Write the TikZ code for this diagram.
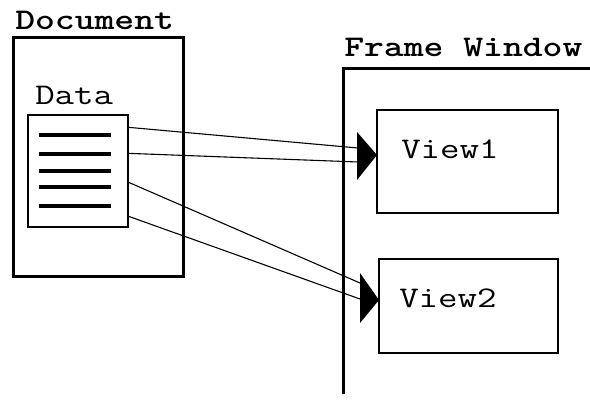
\documentclass[tikz,border=0pt]{standalone}
\usepackage{fontspec}
\usetikzlibrary{calc}
\tikzset{
  thinbox/.style={draw, line width=1.3pt, inner sep=0pt},
  thickbox/.style={draw, line width=3pt, inner sep=0pt},
  label text/.style={font=\ttfamily\fontsize{30}{30}\selectfont, inner sep=0pt, anchor=base west, xscale=1.26},
  title text/.style={label text, font=\ttfamily\bfseries\fontsize{30}{30}\selectfont},
  link/.style={line width=1.1pt},
  rule/.style={line width=3.6pt},
  head/.style={fill=black}
}
\begin{document}
\begin{tikzpicture}[x=1pt, y=-1pt]
  \useasboundingbox (0,0) rectangle (590,404);

  % Document with its Data block
  \node[title text] (doclabel) at (15,30) {Document};
  \node[thickbox, minimum width=170pt, minimum height=238pt] (doc) at (98,157) {};
  \node[label text] (datalabel) at (35,105) {Data};
  \node[thinbox, minimum width=100pt, minimum height=112pt] (data) at (78,171) {};
  \foreach \y in {135,154,171,187,206}
    \draw[rule] (39,\y) -- (111,\y);

  % Frame window (open to the right and bottom)
  \node[title text] (framelabel) at (344,57) {Frame Window};
  \coordinate (fbottom) at (343,394);
  \coordinate (fcorner) at (343,69);
  \coordinate (fright) at (590,69);
  \draw[line width=3pt] (fbottom) -- (fcorner) -- (fright);

  % Views
  \node[thinbox, minimum width=181pt, minimum height=103pt] (view1) at (467.5,161.5) {};
  \node[label text] at (401,159) {View1};
  \node[thinbox, minimum width=179pt, minimum height=94pt] (view2) at (468.5,306) {};
  \node[label text] at (399,307) {View2};

  % Arrow heads in front of each view
  \coordinate (tip1) at (377,155);
  \coordinate (tip2) at (379,300);
  \fill[head] (tip1) -- ($(tip1)+(-20,-23)$) -- ($(tip1)+(-20,25)$) -- cycle;
  \fill[head] (tip2) -- ($(tip2)+(-19,-27)$) -- ($(tip2)+(-19,23)$) -- cycle;

  % Data ports and link ends
  \coordinate (p1) at ($(data.north east)+(0,13)$);
  \coordinate (p2) at ($(data.north east)+(0,39)$);
  \coordinate (p3) at ($(data.north east)+(0,68)$);
  \coordinate (p4) at ($(data.north east)+(0,102)$);
  \coordinate (e1) at (358,148);
  \coordinate (e2) at (358,162);
  \coordinate (e3) at (360,283);
  \coordinate (e4) at (360,299);
  \draw[link] (p1) -- (e1);
  \draw[link] (p2) -- (e2);
  \draw[link] (p3) -- (e3);
  \draw[link] (p4) -- (e4);
\end{tikzpicture}
\end{document}
